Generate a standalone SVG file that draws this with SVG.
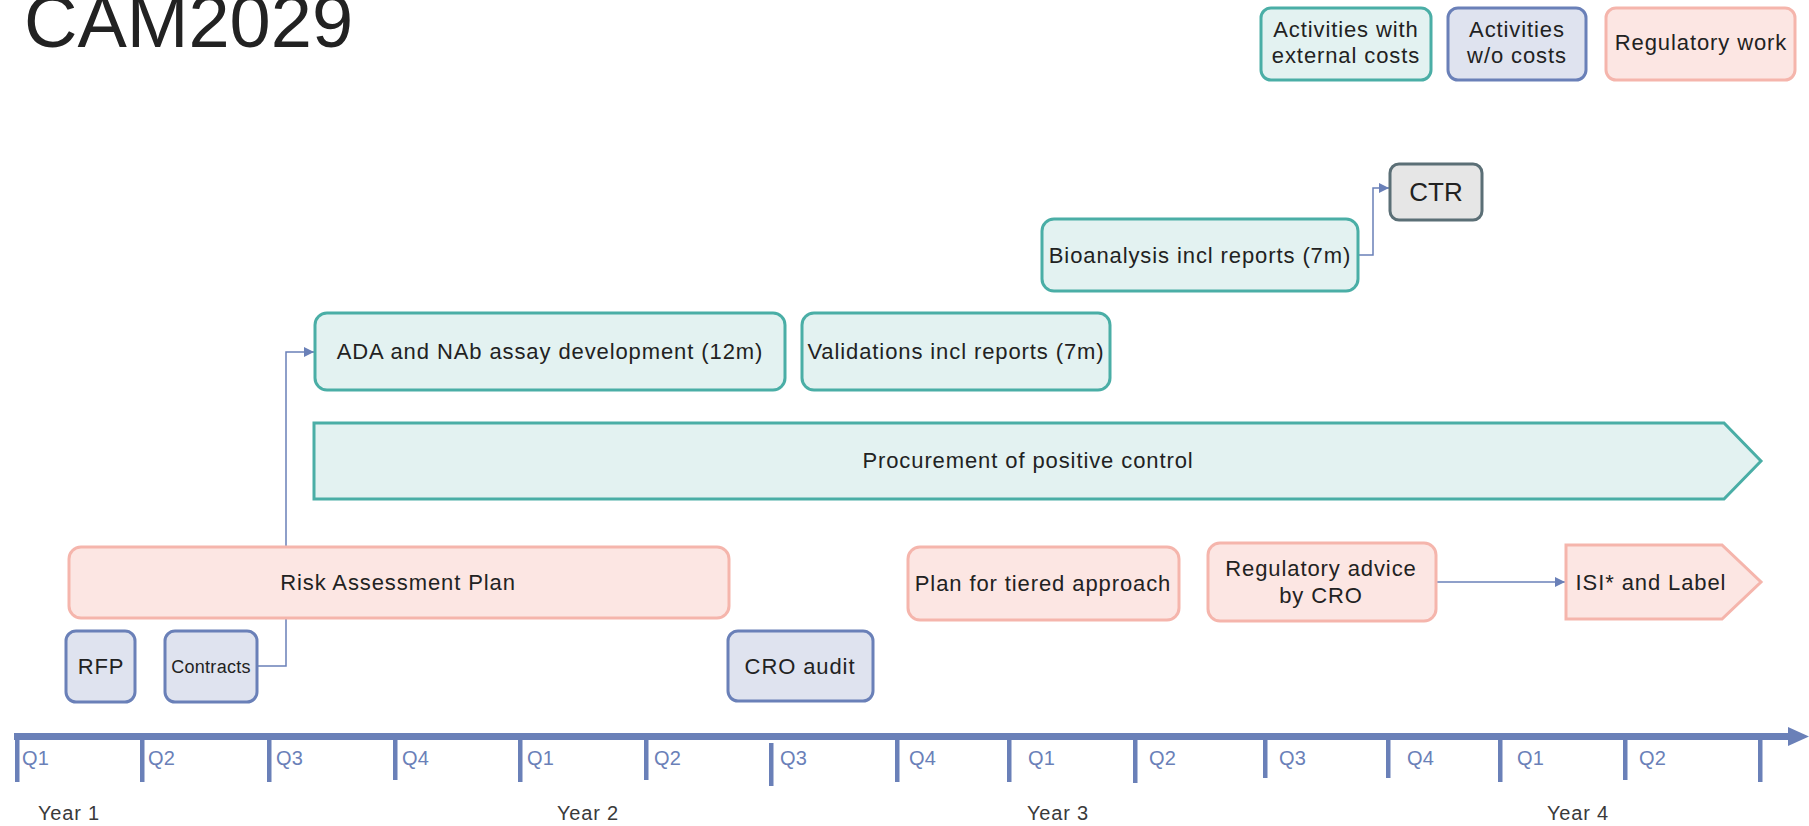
<svg xmlns="http://www.w3.org/2000/svg" width="1809" height="826" viewBox="0 0 1809 826">
<style>
text{font-family:"Liberation Sans",Arial,sans-serif;fill:#222;}
.t{font-size:22px;letter-spacing:0.9px;text-anchor:middle;}
.teal{fill:#e3f2f1;stroke:#4aaea6;stroke-width:3;}
.blue{fill:#dfe3ef;stroke:#6a80b8;stroke-width:3;}
.pink{fill:#fce6e3;stroke:#f5b5ac;stroke-width:3;}
.gray{fill:#e6e6e6;stroke:#5b6f76;stroke-width:3;}
.conn{fill:none;stroke:#6a80b8;stroke-width:1.5;}
.axis{fill:#6a80b8;}
.q{font-size:20px;fill:#6a80b8;letter-spacing:0.3px;}
.yr{font-size:20px;fill:#3a3a3a;letter-spacing:0.8px;}
</style>
<defs>
<marker id="arr" viewBox="0 0 10 10" refX="10" refY="5" markerWidth="10" markerHeight="10" markerUnits="userSpaceOnUse" orient="auto">
<path d="M0,0 L10,5 L0,10 Z" fill="#6a80b8"/>
</marker>
</defs>

<text x="24" y="47" style="font-size:74px;fill:#222;">CAM2029</text>

<g id="legend-external">
<rect class="teal" x="1261" y="8" width="170" height="72" rx="10"/>
<text class="t" x="1346" y="37">Activities with</text>
<text class="t" x="1346" y="63">external costs</text>
</g>
<g id="legend-nocost">
<rect class="blue" x="1448" y="8" width="138" height="72" rx="10"/>
<text class="t" x="1517" y="37">Activities</text>
<text class="t" x="1517" y="63">w/o costs</text>
</g>
<g id="legend-regulatory">
<rect class="pink" x="1606" y="8" width="189" height="72" rx="10"/>
<text class="t" x="1701" y="50">Regulatory work</text>
</g>

<g id="connectors">
<path class="conn" d="M1358,255 H1373 V188 H1389" marker-end="url(#arr)"/>
<path class="conn" d="M257,666 H286 V352 H314" marker-end="url(#arr)"/>
<path class="conn" d="M1436,582 H1565" marker-end="url(#arr)"/>
</g>

<g id="ctr">
<rect class="gray" x="1390" y="164" width="92" height="56" rx="9"/>
<text x="1436" y="201" style="font-size:26px;text-anchor:middle;">CTR</text>
</g>
<g id="bioanalysis">
<rect class="teal" x="1042" y="219" width="316" height="72" rx="12"/>
<text class="t" x="1200" y="263">Bioanalysis incl reports (7m)</text>
</g>
<g id="ada">
<rect class="teal" x="315" y="313" width="470" height="77" rx="12"/>
<text class="t" x="550" y="359">ADA and NAb assay development (12m)</text>
</g>
<g id="validations">
<rect class="teal" x="802" y="313" width="308" height="77" rx="12"/>
<text class="t" x="956" y="359">Validations incl reports (7m)</text>
</g>
<g id="procurement">
<path class="teal" d="M314,423 H1724 L1761,461 L1724,499 H314 Z"/>
<text class="t" x="1028" y="468">Procurement of positive control</text>
</g>
<g id="risk">
<rect class="pink" x="69" y="547" width="660" height="71" rx="12"/>
<text class="t" x="398" y="590">Risk Assessment Plan</text>
</g>
<g id="tiered">
<rect class="pink" x="908" y="547" width="271" height="73" rx="12"/>
<text class="t" x="1043" y="591">Plan for tiered approach</text>
</g>
<g id="regadvice">
<rect class="pink" x="1208" y="543" width="228" height="78" rx="12"/>
<text class="t" x="1321" y="576">Regulatory advice</text>
<text class="t" x="1321" y="603">by CRO</text>
</g>
<g id="isi">
<path class="pink" d="M1566,545 H1722 L1761,582 L1722,619 H1566 Z"/>
<text class="t" x="1651" y="590">ISI* and Label</text>
</g>
<g id="rfp">
<rect class="blue" x="66" y="631" width="69" height="71" rx="10"/>
<text class="t" x="101" y="674">RFP</text>
</g>
<g id="contracts">
<rect class="blue" x="165" y="631" width="92" height="71" rx="10"/>
<text x="211" y="673" style="font-size:18px;text-anchor:middle;letter-spacing:0.3px;">Contracts</text>
</g>
<g id="croaudit">
<rect class="blue" x="728" y="631" width="145" height="70" rx="10"/>
<text class="t" x="800" y="674">CRO audit</text>
</g>

<g id="timeline">
<rect class="axis" x="14" y="733" width="1778" height="7"/>
<path class="axis" d="M1788,727 L1809,736.5 L1788,746 Z"/>
<rect class="axis" x="15" y="733" width="4.5" height="49"/>
<rect class="axis" x="140" y="733" width="4.5" height="49"/>
<rect class="axis" x="267" y="733" width="4.5" height="49"/>
<rect class="axis" x="393" y="733" width="4.5" height="47"/>
<rect class="axis" x="518" y="733" width="4.5" height="49"/>
<rect class="axis" x="644" y="733" width="4.5" height="47"/>
<rect class="axis" x="769" y="743" width="4.5" height="43"/>
<rect class="axis" x="895" y="733" width="4.5" height="49"/>
<rect class="axis" x="1007" y="733" width="4.5" height="49"/>
<rect class="axis" x="1133" y="733" width="4.5" height="50"/>
<rect class="axis" x="1263" y="733" width="4.5" height="45"/>
<rect class="axis" x="1386" y="733" width="4.5" height="45"/>
<rect class="axis" x="1498" y="733" width="4.5" height="49"/>
<rect class="axis" x="1623" y="733" width="4.5" height="47"/>
<rect class="axis" x="1758" y="733" width="4.5" height="49"/>
<text class="q" x="22" y="765">Q1</text>
<text class="q" x="148" y="765">Q2</text>
<text class="q" x="276" y="765">Q3</text>
<text class="q" x="402" y="765">Q4</text>
<text class="q" x="527" y="765">Q1</text>
<text class="q" x="654" y="765">Q2</text>
<text class="q" x="780" y="765">Q3</text>
<text class="q" x="909" y="765">Q4</text>
<text class="q" x="1028" y="765">Q1</text>
<text class="q" x="1149" y="765">Q2</text>
<text class="q" x="1279" y="765">Q3</text>
<text class="q" x="1407" y="765">Q4</text>
<text class="q" x="1517" y="765">Q1</text>
<text class="q" x="1639" y="765">Q2</text>
<text class="yr" x="38" y="820">Year 1</text>
<text class="yr" x="557" y="820">Year 2</text>
<text class="yr" x="1027" y="820">Year 3</text>
<text class="yr" x="1547" y="820">Year 4</text>
</g>
</svg>
